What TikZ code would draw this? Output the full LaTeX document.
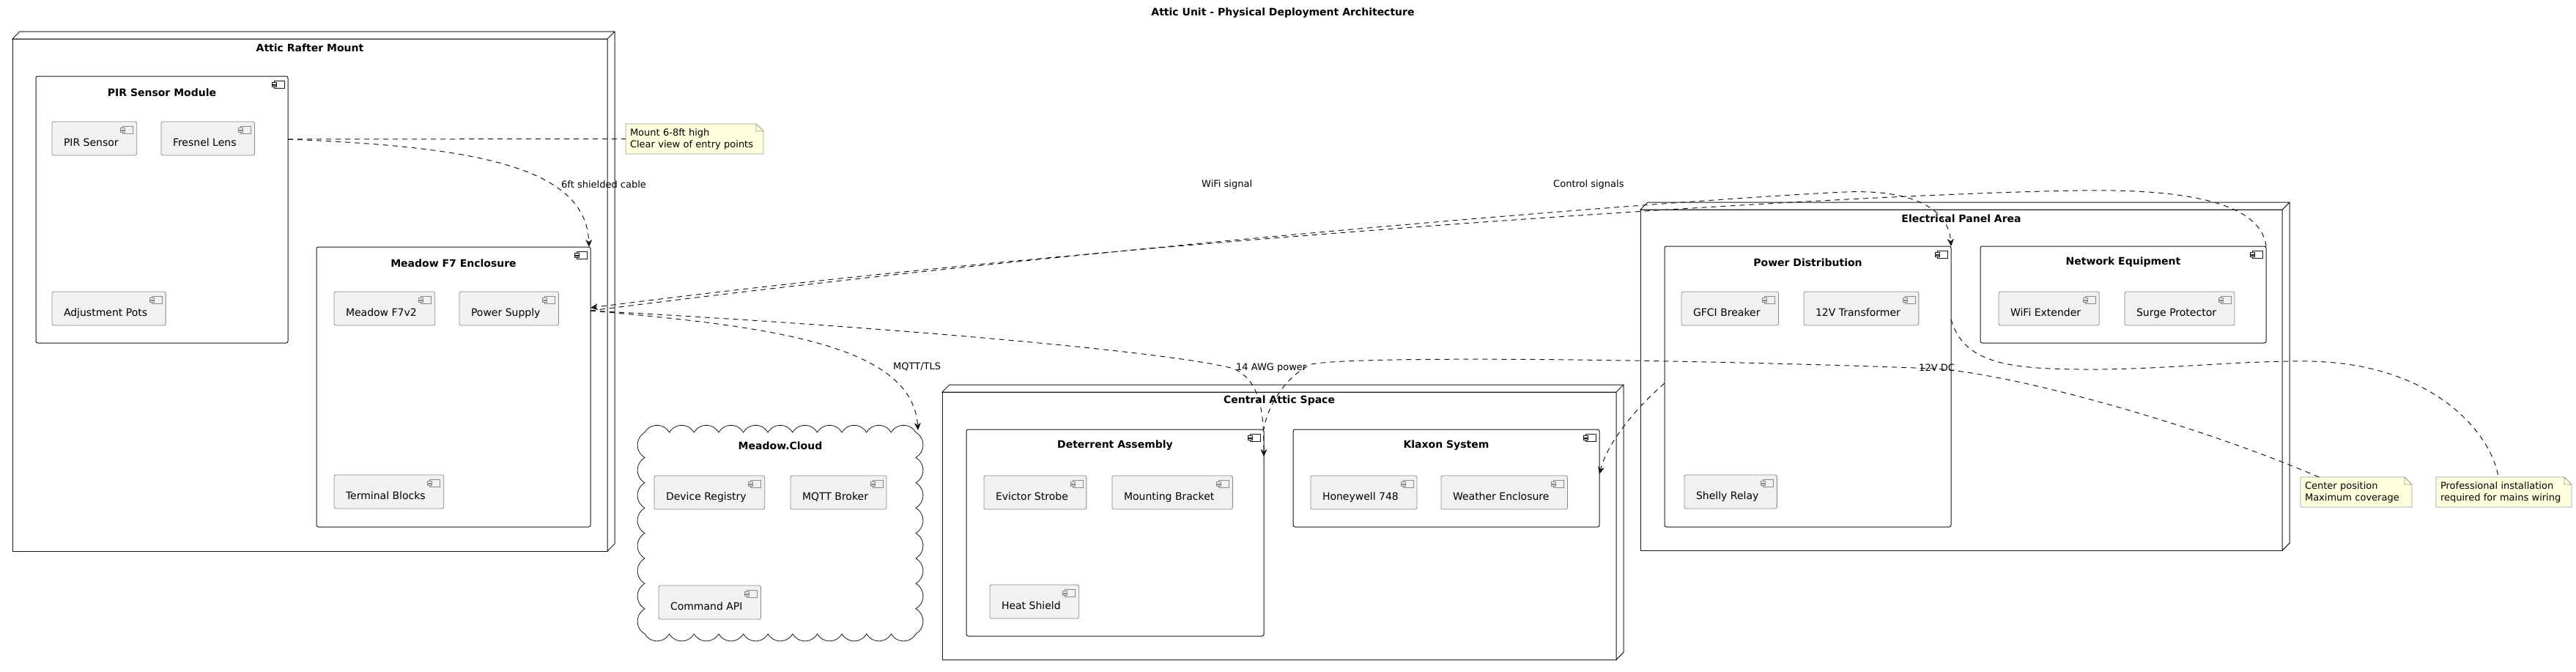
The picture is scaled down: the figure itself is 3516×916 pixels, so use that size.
\documentclass[tikz,border=0pt]{standalone}
\usepackage{fontspec}
\setmainfont{DejaVu Sans}
\usetikzlibrary{arrows.meta,calc}
\definecolor{ink}{HTML}{181818}
\definecolor{compfill}{HTML}{F1F1F1}
\definecolor{compline}{HTML}{8A8A8A}
\definecolor{notefill}{HTML}{FEFFDD}
\definecolor{noteline}{HTML}{999999}
\begin{document}
\begin{tikzpicture}[x=1pt,y=-1pt,
		comp/.style={draw=compline,fill=compfill,line width=0.8pt,rounded corners=2.5pt,inner xsep=0pt,inner ysep=0pt,outer sep=0pt,text height=33pt,text depth=13pt,font=\fontsize{14}{16}\selectfont},
		cont/.style={draw=ink,fill=white,line width=1pt,rounded corners=2.5pt,inner sep=0pt,outer sep=0pt},
		box3d/.style={draw=ink,fill=white,line width=1pt,inner sep=0pt,outer sep=0pt},
		ttl/.style={font=\bfseries\fontsize{14}{16}\selectfont,inner sep=0pt},
		lbl/.style={font=\fontsize{13}{15}\selectfont,inner sep=0pt,anchor=west},
		notebox/.style={fill=notefill,align=left,inner xsep=6pt,inner ysep=0pt,outer sep=0pt,minimum height=41pt,anchor=north west,font=\fontsize{13}{16}\selectfont},
		link/.style={draw=ink,line width=1pt,dash pattern=on 7pt off 6pt},
		>={Stealth[length=10pt,width=9pt,inset=3pt]}]
	\useasboundingbox (0,0) rectangle (3516,916);
	\node[ttl] (title) at (1751,18) {Attic Unit - Physical Deployment Architecture};
	\foreach \n/\x/\y/\w/\h/\txt in {attic/17/53/812/699/Attic Rafter Mount,central/1286/535/920/365/Central Attic Space,elec/2239/286/876/465/Electrical Panel Area}{
		\node[box3d,minimum width=\w,minimum height=\h,anchor=north west] (\n) at (\x,\y) {};
		\draw[draw=ink,line width=1pt,fill=white] (\n.north west) -- ++(10,-10) -| ([xshift=10pt,yshift=10pt]\n.south east) -- (\n.south east) -- (\n.north east) -- cycle (\n.north east) -- ++(10,-10);
		\node[ttl] (\n-t) at ([yshift=-12pt]\n.north) {\txt};
	}
	\foreach \n/\x/\y/\w/\h/\txt in {pirmod/49/104/344/364/PIR Sensor Module,mfe/432/337/374/382/Meadow F7 Enclosure,deter/1319/586/406/282/Deterrent Assembly,klaxon/1765/586/418/133/Klaxon System,powdist/2272/336/391/383/Power Distribution,neteq/2703/336/390/132/Network Equipment}{
		\node[cont,minimum width=\w,minimum height=\h,anchor=north west] (\n) at (\x,\y) {};
		\node[ttl] (\n-t) at ([yshift=-22pt]\n.north) {\txt};
		\draw[draw=ink,line width=0.8pt] ([xshift=-19pt,yshift=-6pt]\n.north east) rectangle ++(14,10);
		\draw[draw=ink,fill=white,line width=0.8pt] ([xshift=-22pt,yshift=-8.5pt]\n.north east) rectangle ++(6,2.5) ([xshift=-22pt,yshift=-12pt]\n.north east) rectangle ++(6,2.5);
	}
	\node[minimum width=370,minimum height=275,anchor=north west,inner sep=0pt,outer sep=0pt] (cloud) at (880,590) {};
	\draw[draw=ink,line width=0.8pt,fill=white] (cloud.north west)
		\foreach \i in {1,...,11}{arc[start angle=210,end angle=330,radius=19.42]}
		\foreach \i in {1,...,8}{arc[start angle=-60,end angle=60,radius=19.85]}
		\foreach \i in {1,...,11}{arc[start angle=30,end angle=150,radius=19.42]}
		\foreach \i in {1,...,8}{arc[start angle=120,end angle=240,radius=19.85]} -- cycle;
	\node[ttl] (cloud-t) at ([yshift=-18pt]cloud.north) {Meadow.Cloud};
	\foreach \n/\x/\y/\txt in {pirs/71/166/PIR Sensor,fres/220/166/Fresnel Lens,adjp/71/398/Adjustment Pots,mf7/456/398/Meadow F7v2,psup/627/398/Power Supply,term/456/648/Terminal Blocks,devreg/893/649/Device Registry,mqtt/1079/649/MQTT Broker,cmdapi/899/799/Command API,evict/1343/649/Evictor Strobe,mount/1518/649/Mounting Bracket,heat/1351/798/Heat Shield,honey/1789/649/Honeywell 748,weather/1967/649/Weather Enclosure,gfci/2295/398/GFCI Breaker,trans/2462/398/12V Transformer,shelly/2299/648/Shelly Relay,wifi/2728/398/WiFi Extender,surge/2900/398/Surge Protector}{
		\node[comp,anchor=north west] (\n) at (\x,\y) {\hspace*{16pt}\txt\hspace*{25pt}};
		\draw[draw=compline,line width=0.6pt] ([xshift=-19pt,yshift=-6pt]\n.north east) rectangle ++(14,10);
		\draw[draw=compline,fill=compfill,line width=0.6pt] ([xshift=-22pt,yshift=-8.5pt]\n.north east) rectangle ++(6,2.5) ([xshift=-22pt,yshift=-12pt]\n.north east) rectangle ++(6,2.5);
	}
	\node[notebox,text width=176pt] (note1) at (854,169) {Mount 6-8ft high\\Clear view of entry points};
	\node[notebox,text width=140pt] (note2) at (3140,651) {Center position\\Maximum coverage};
	\node[notebox,text width=173pt] (note3) at (3325,651) {Professional installation\\required for mains wiring};
	\foreach \n in {note1,note2,note3}{
		\fill[white] ([xshift=-10pt]\n.north east) -- (\n.north east) -- ([yshift=-10pt]\n.north east) -- cycle;
		\draw[draw=noteline,line width=0.8pt] (\n.north west) -- ([xshift=-10pt]\n.north east) -- ([yshift=-10pt]\n.north east) -- (\n.south east) -- (\n.south west) -- cycle ([xshift=-10pt]\n.north east) |- ([yshift=-10pt]\n.north east);
	}
	\coordinate (pirR) at ([yshift=-86pt]pirmod.north east);
	\coordinate (mfeT) at ([xshift=-2pt]mfe.north east);
	\coordinate (mfeIn) at ([yshift=-83pt]mfe.north east);
	\coordinate (mfeOut) at ([yshift=-87pt]mfe.north east);
	\coordinate (cloudT) at ([xshift=3pt,yshift=3pt]cloud.north east);
	\coordinate (deterT) at ([yshift=-37pt]deter.north east);
	\coordinate (powL) at ([yshift=-187pt]powdist.north west);
	\coordinate (powR) at ([yshift=-100pt]powdist.north east);
	\coordinate (klaxR) at ([yshift=-61pt]klaxon.north east);
	\coordinate (note2T) at ([xshift=25pt]note2.north west);
	\coordinate (note3T) at ([xshift=85pt]note3.north west);
	\draw[link] (pirR) -- (note1.west);
	\draw[link,->] (pirR) .. controls (640,200) and (800,225) .. (mfeT);
	\draw[link,->] (mfeOut) .. controls (1050,445) and (1245,470) .. (cloudT);
	\draw[link,->] (neteq.north east) .. controls (3085,270) and (2960,258) .. (2838,260) .. controls (2500,265) and (1500,330) .. (mfeIn);
	\draw[link,->] (mfeOut) .. controls (1500,335) and (2300,272) .. (2519,262) .. controls (2620,258) and (2660,290) .. (powdist.north east);
	\draw[link,->] (mfeOut) .. controls (1200,445) and (1600,480) .. (1684,503) .. controls (1720,520) and (1725,560) .. (deterT);
	\draw[link,->] (powL) .. controls (2240,550) and (2195,600) .. (klaxR);
	\draw[link] (note2T) .. controls (3000,580) and (2750,510) .. (2640,503) .. controls (2300,490) and (1850,485) .. (1790,497) .. controls (1760,510) and (1730,550) .. (deter.north east);
	\draw[link] (powR) .. controls (2680,495) and (2740,503) .. (2838,504) .. controls (2950,505) and (3050,492) .. (3150,493) .. controls (3320,495) and (3400,590) .. (note3T);
	\node[lbl] (lbl-cable) at (766,252) {6ft shielded cable};
	\node[lbl] (lbl-mqtt) at (1219,501) {MQTT/TLS};
	\node[lbl] (lbl-wifi) at (1640,252) {WiFi signal};
	\node[lbl] (lbl-ctrl) at (2120,252) {Control signals};
	\node[lbl] (lbl-awg) at (1687,502) {14 AWG power};
	\node[lbl] (lbl-dc) at (2619,502) {12V DC};
\end{tikzpicture}
\end{document}
